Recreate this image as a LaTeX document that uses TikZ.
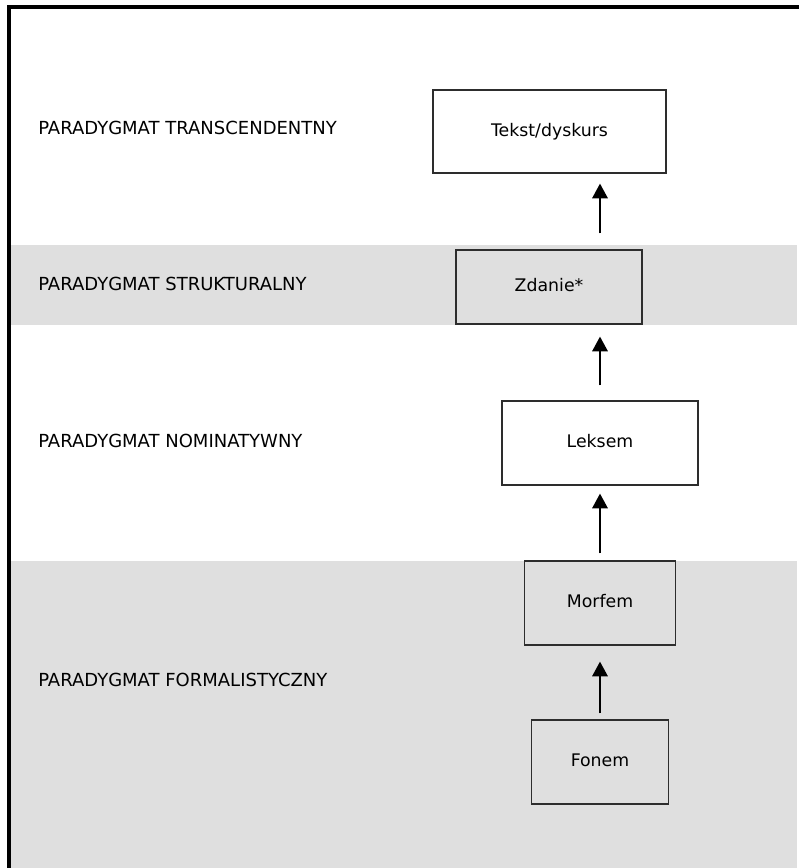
\documentclass[tikz,border=0pt]{standalone}
\usepackage{fontspec}
\setmainfont{DejaVu Sans}
\usetikzlibrary{arrows.meta,calc}
\definecolor{bandgray}{RGB}{223,223,223}
\definecolor{boxline}{RGB}{45,45,45}
\begin{document}
\begin{tikzpicture}[x=0.75pt,y=-0.75pt,
  level/.style={anchor=west, inner sep=0pt, font=\fontsize{13.5}{16}\selectfont},
  unit/.style 2 args={draw=boxline, line width=0.9pt, inner sep=0pt,
    minimum width=#1*0.75pt, minimum height=#2*0.75pt,
    text height=0.73em, text depth=0pt, font=\fontsize{13}{16}\selectfont},
  arr/.style={line width=1.5pt, -{Triangle[width=11.5pt,length=11pt]}}]
\useasboundingbox (0,0) rectangle (799,868);

% shaded paradigm bands
\fill[bandgray] (10,245) rectangle (797,325);
\fill[bandgray] (10,561) rectangle (797,868);

% outer frame (top and left edges)
\draw[line width=2.3pt] (9,868) -- (9,7) -- (799,7);

% paradigm names
\node[level] (lt) at (38,128) {PARADYGMAT TRANSCENDENTNY};
\node[level] (ls) at (38,284) {PARADYGMAT STRUKTURALNY};
\node[level] (ln) at (38,441) {PARADYGMAT NOMINATYWNY};
\node[level] (lf) at (38,680) {PARADYGMAT FORMALISTYCZNY};

% language units
\node[unit={233}{83}, fill=white]    (tekst)  at (549.5,131.5) {Tekst/dyskurs};
\node[unit={186}{74}, fill=bandgray] (zdanie) at (549,287)     {Zdanie*};
\node[unit={196}{84}, fill=white]    (leksem) at (600,443)     {Leksem};
\node[unit={151}{84}, fill=bandgray] (morfem) at (600,603)     {Morfem};
\node[unit={137}{84}, fill=bandgray] (fonem)  at (600,762)     {Fonem};

% arrow axis points under the upper boxes
\path (zdanie.north -| leksem.center) coordinate (zdN);
\path (zdanie.south -| leksem.center) coordinate (zdS);
\path (tekst.south -| leksem.center) coordinate (tkS);

% arrows
\draw[arr] ($(zdN)+(0,-16)$) -- ($(tkS)+(0,10)$);
\draw[arr] ($(leksem.north)+(0,-15)$) -- ($(zdS)+(0,12)$);
\draw[arr] ($(morfem.north)+(0,-7)$) -- ($(leksem.south)+(0,8)$);
\draw[arr] ($(fonem.north)+(0,-6)$) -- ($(morfem.south)+(0,16)$);
\end{tikzpicture}
\end{document}
